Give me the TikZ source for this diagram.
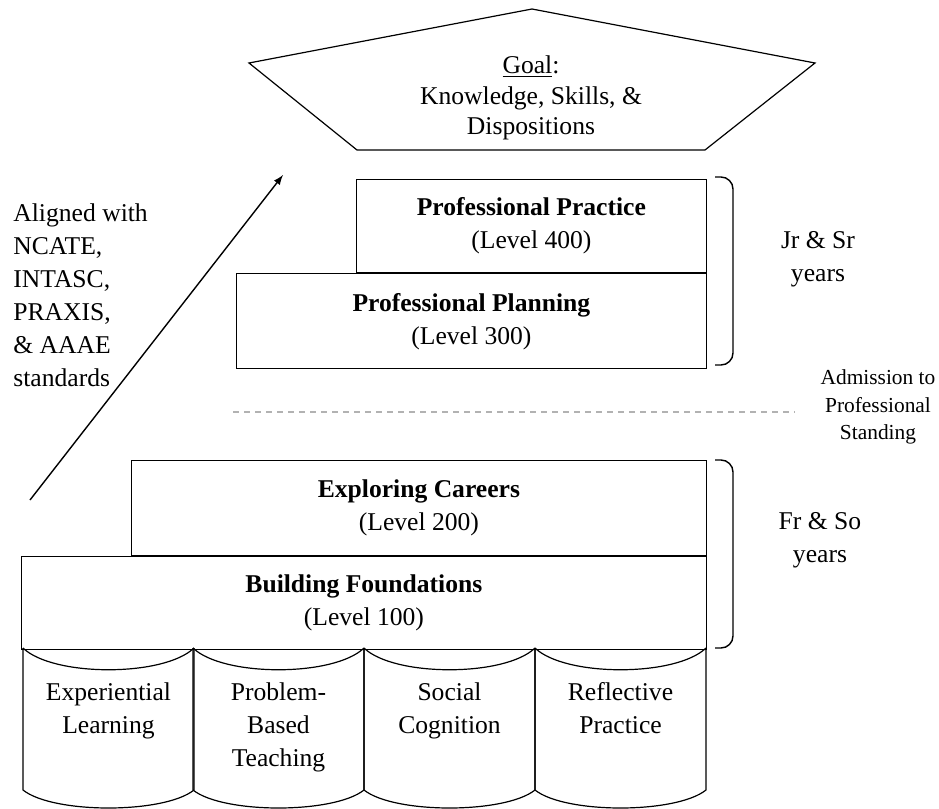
\documentclass[tikz,border=0pt]{standalone}
\usepackage{fontspec}
\setmainfont{Liberation Serif}
\usetikzlibrary{positioning}
\tikzset{
  txt/.style={inner sep=0pt,align=center,font=\fontsize{12.8}{16.5}\selectfont},
  level/.style={txt,draw,line width=0.6pt},
  small/.style={inner sep=0pt,align=center,font=\fontsize{10.7}{13.75}\selectfont},
  years/.style={line width=0.7pt,rounded corners=6pt}
}
\begin{document}
\begin{tikzpicture}[x=0.5pt,y=-0.5pt]
  \useasboundingbox (0,0) rectangle (939,809);
  \draw [line width=0.6pt] (249,63) -- (532,9) -- (815,63) -- (705,150) -- (357,150) -- cycle;
  \node [txt,font=\fontsize{12.8}{15.25}\selectfont] (goal) at (531,98)
   {\underline{Goal}:\\Knowledge, Skills, \&\\Dispositions};
  \node [level,minimum width=175pt,minimum height=46.5pt,anchor=north east] (practice) at (707,179)
   {\textbf{Professional Practice}\\(Level 400)};
  \node [level,minimum width=235pt,minimum height=47.5pt,anchor=north east] (planning) at (practice.south east)
   {\textbf{Professional Planning}\\(Level 300)};
  \node [level,minimum width=287.5pt,minimum height=47.5pt,anchor=north east] (careers) at (707,460)
   {\textbf{Exploring Careers}\\(Level 200)};
  \node [level,minimum width=342.5pt,minimum height=46.5pt,anchor=north east] (foundations) at (careers.south east)
   {\textbf{Building Foundations}\\(Level 100)};
  \foreach \x/\name [count=\i] in {23/{Experiential\\Learning},193/{Problem-\\Based\\Teaching},
   364/{Social\\Cognition},535/{Reflective\\Practice}} {
    \draw [line width=0.6pt] (\x,648) .. controls (\x+30,677) and (\x+141,677) .. (\x+171,648);
    \draw [line width=0.6pt] (\x,648) -- (\x,790) .. controls (\x+30,814) and (\x+141,814) .. (\x+171,790) -- (\x+171,648);
    \node [txt,anchor=north] (pillar\i) at (\x+85.5,682) {\name};
  }
  \draw [years] (715,177) -- (733,177) -- (733,365) -- (715,365);
  \draw [years] (715,460) -- (733,460) -- (733,648) -- (715,648);
  \node [txt] (upper) at (818,259) {Jr \& Sr\\years};
  \node [txt] (lower) at (820,540) {Fr \& So\\years};
  \draw [gray!60,line width=1.3pt,dash pattern=on 3pt off 2.5pt] (233,412) -- (795,412);
  \node [small] (admission) at (878,407) {Admission to\\Professional\\Standing};
  \node [txt,align=left,anchor=north west] (aligned) at (13,203)
   {Aligned with\\NCATE,\\INTASC,\\PRAXIS,\\\& AAAE\\standards};
  \coordinate (tail) at (30,500);
  \coordinate (head) at (283,175);
  \draw [line width=0.7pt,-latex] (tail) -- (head);
\end{tikzpicture}
\end{document}
